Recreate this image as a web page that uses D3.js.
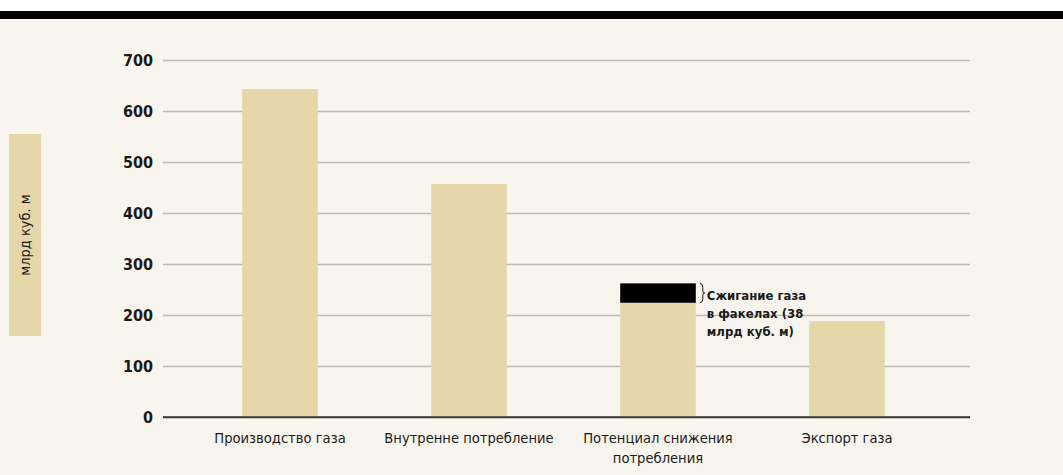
<!DOCTYPE html>
<html>
<head>
<meta charset="utf-8">
<script src="https://cdnjs.cloudflare.com/ajax/libs/d3/7.8.5/d3.min.js"></script>
<style>
  body { margin: 0; background: #fff; }
  svg text { font-family: "Liberation Sans Narrow", "DejaVu Sans Condensed", "Open Sans", sans-serif; fill: #1a1a1a; }
</style>
</head>
<body>
<div id="chart"></div>
<script>
// data
var categories = [["Производство газа"], ["Внутренне потребление"], ["Потенциал снижения", "потребления"], ["Экспорт газа"]];
var baseValues = [643, 457, 224, 188];
var flareValues = [0, 0, 38, 0];
var yTicks = [0, 100, 200, 300, 400, 500, 600, 700];
var flareNote = ["Сжигание газа", "в факелах (38", "млрд куб. м)"];
var yLabel = "млрд куб. м";

var W = 1063, H = 475;
var svg = d3.select("#chart").append("svg")
    .attr("width", W)
    .attr("height", H);

svg.append("rect").attr("x", 0).attr("y", 19).attr("width", W).attr("height", H - 19).attr("fill", "#f8f5ee");
svg.append("rect").attr("x", 0).attr("y", 11).attr("width", W).attr("height", 8).attr("fill", "#000");

var y = d3.scaleLinear().domain([0, 700]).range([417, 60]);
var x = d3.scaleBand()
    .domain(d3.range(categories.length))
    .range([185.5, 941.5])
    .paddingInner(0.6)
    .paddingOuter(0.3);

// gridlines
var yAxis = d3.axisLeft(y)
    .tickValues(yTicks)
    .tickSize(-807)
    .tickPadding(10)
    .tickFormat(d3.format("d"));

var gy = svg.append("g")
    .attr("transform", "translate(163,0)")
    .call(yAxis);
gy.select(".domain").remove();
gy.selectAll(".tick line")
    .attr("stroke", function(d) { return d === 0 ? "#3a3a3a" : "#bdbcb6"; })
    .attr("stroke-width", function(d) { return d === 0 ? 1.6 : 1.3; });
gy.selectAll(".tick text")
    .attr("font-size", "16px")
    .attr("font-weight", "bold")
    .attr("fill", "#1a1a1a");

// bars
svg.append("g").selectAll("rect")
    .data(baseValues)
    .join("rect")
    .attr("x", function(d, i) { return x(i); })
    .attr("y", function(d) { return y(d); })
    .attr("width", x.bandwidth())
    .attr("height", function(d) { return y(0) - y(d); })
    .attr("fill", "#e5d7a9");

svg.append("g").selectAll("rect")
    .data(flareValues)
    .join("rect")
    .attr("x", function(d, i) { return x(i); })
    .attr("y", function(d, i) { return y(baseValues[i] + d); })
    .attr("width", function(d) { return d > 0 ? x.bandwidth() : 0; })
    .attr("height", function(d, i) { return y(baseValues[i]) - y(baseValues[i] + d); })
    .attr("fill", "#000");

// zero line on top of bars
svg.append("line")
    .attr("x1", 163).attr("x2", 970)
    .attr("y1", y(0)).attr("y2", y(0))
    .attr("stroke", "#3a3a3a").attr("stroke-width", 1.6);

// category labels
var cat = svg.append("g").selectAll("text")
    .data(categories)
    .join("text")
    .attr("x", function(d, i) { return x(i) + x.bandwidth() / 2; })
    .attr("y", 443)
    .attr("text-anchor", "middle")
    .attr("font-size", "14.6px");
cat.selectAll("tspan")
    .data(function(d) { return d; })
    .join("tspan")
    .attr("x", function() { return d3.select(this.parentNode).attr("x"); })
    .attr("dy", function(d, j) { return j === 0 ? 0 : 20; })
    .text(function(d) { return d; });

// flare annotation
var fi = 2;
var fTop = y(baseValues[fi] + flareValues[fi]), fBot = y(baseValues[fi]);
var bx = x(fi) + x.bandwidth() + 4, mid = (fTop + fBot) / 2;
svg.append("path")
    .attr("d", "M" + bx + "," + fTop + " q3,0 3,4 v" + (mid - fTop - 6) + " q0,2 2,2 q-2,0 -2,2 v" + (fBot - mid - 6) + " q0,4 -3,4")
    .attr("fill", "none").attr("stroke", "#1a1a1a").attr("stroke-width", 1);

svg.append("g").selectAll("text")
    .data(flareNote)
    .join("text")
    .attr("x", bx + 7)
    .attr("y", function(d, j) { return 300 + j * 18; })
    .attr("font-size", "13px")
    .attr("font-weight", "bold")
    .text(function(d) { return d; });

// y label box
svg.append("rect")
    .attr("x", 9).attr("y", 134).attr("width", 32).attr("height", 202)
    .attr("fill", "#e5d7a9");
svg.append("text")
    .attr("transform", "translate(30,235) rotate(-90)")
    .attr("text-anchor", "middle")
    .attr("font-size", "14.5px")
    .text(yLabel);
</script>
</body>
</html>
